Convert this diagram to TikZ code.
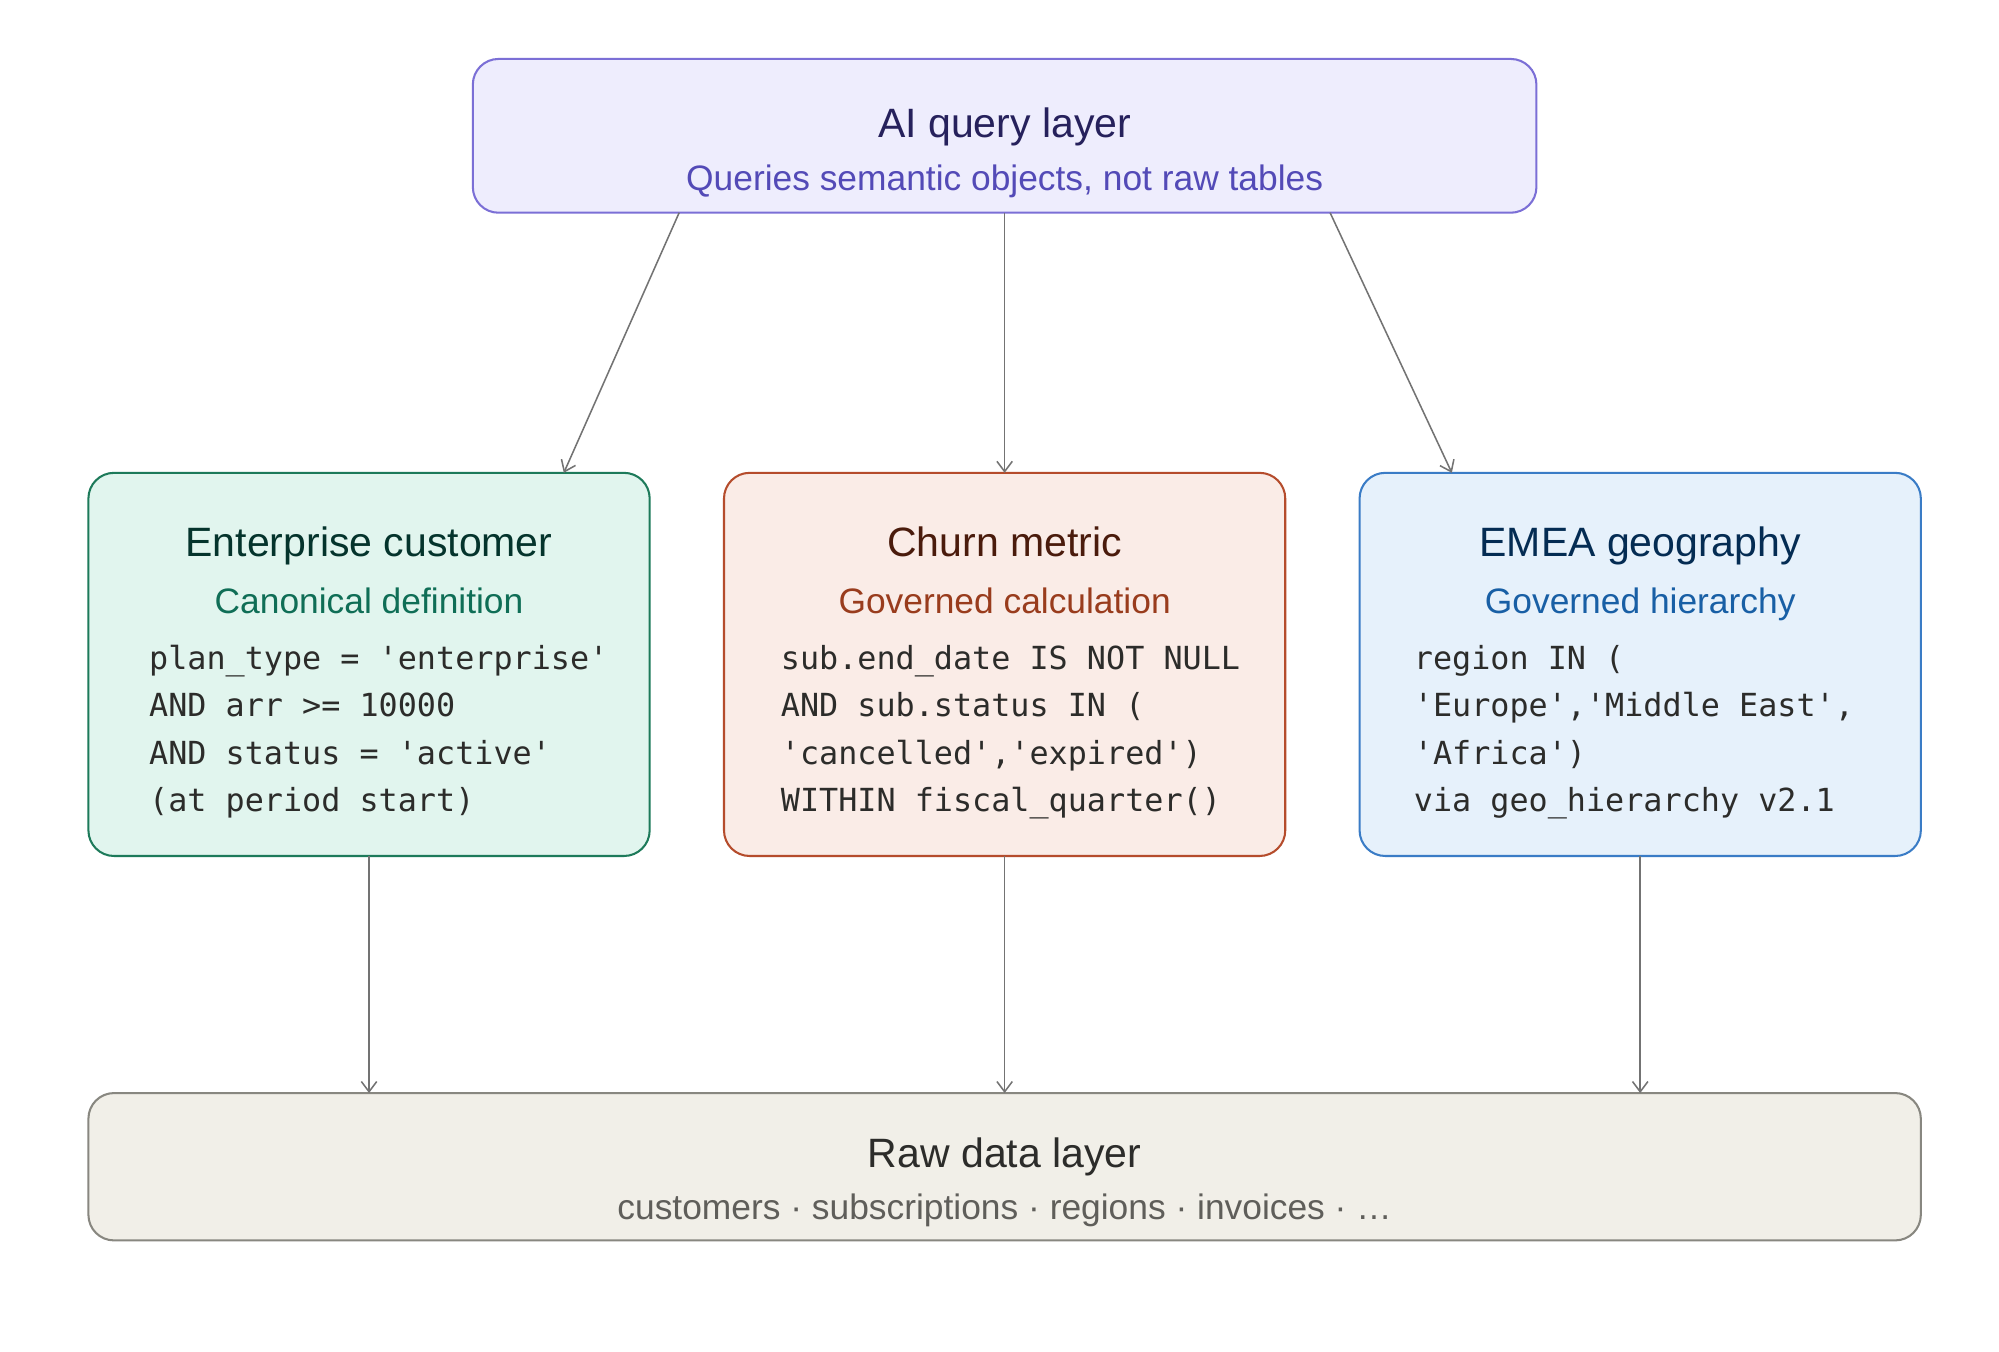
\documentclass[tikz,border=0pt]{standalone}
\usepackage{fontspec}
\setmainfont{Liberation Sans}
\setmonofont{DejaVu Sans Mono}
\usetikzlibrary{arrows.meta}
\begin{document}
\begin{tikzpicture}[x=0.5pt,y=-0.5pt,
  box/.style={rounded corners=10pt,line width=0.8pt},
  ttl/.style={font=\fontsize{16}{18}\selectfont,anchor=base},
  sub/.style={font=\fontsize{13.8}{15}\selectfont,anchor=base},
  code/.style={font=\ttfamily\fontsize{12.4}{18.5}\selectfont,anchor=north west,align=left,inner sep=0},
  arr/.style={draw=gray!90!black,line width=0.6pt,-{Straight Barb[length=4pt,width=6pt]}}]
\definecolor{tF}{HTML}{EEEDFD}\definecolor{tS}{HTML}{7B6FD6}\definecolor{tT}{HTML}{26215C}\definecolor{tU}{HTML}{534AB7}
\definecolor{gF}{HTML}{E1F5EE}\definecolor{gS}{HTML}{1D7A5A}\definecolor{gT}{HTML}{04342C}\definecolor{gU}{HTML}{0F6E56}
\definecolor{oF}{HTML}{FAECE7}\definecolor{oS}{HTML}{B54C2C}\definecolor{oT}{HTML}{4A1B0C}\definecolor{oU}{HTML}{993C1D}
\definecolor{bF}{HTML}{E6F1FB}\definecolor{bS}{HTML}{3A7CC6}\definecolor{bT}{HTML}{042C53}\definecolor{bU}{HTML}{185FA5}
\definecolor{kF}{HTML}{F1EFE8}\definecolor{kS}{HTML}{888780}\definecolor{kT}{HTML}{2C2C2A}\definecolor{kU}{HTML}{5F5E5A}
\useasboundingbox (0,0) rectangle (1560,1055);
\fill[white] (0,0) rectangle (1560,1055);
% boxes
\draw[box,fill=tF,draw=tS] (369,46) rectangle (1199,166);
\draw[box,fill=gF,draw=gS] (69,369) rectangle (507,668);
\draw[box,fill=oF,draw=oS] (565,369) rectangle (1003,668);
\draw[box,fill=bF,draw=bS] (1061,369) rectangle (1499,668);
\draw[box,fill=kF,draw=kS] (69,853) rectangle (1499,968);
% texts
\node[ttl,text=tT] (tt) at (784,107) {AI query layer};
\node[sub,text=tU] (ts) at (784,149) {Queries semantic objects, not raw tables};
\node[ttl,text=gT] (gt) at (288,434) {Enterprise customer};
\node[sub,text=gU] (gs) at (288,479) {Canonical definition};
\node[code,text=kT] (gc) at (116,503) {plan\_type = 'enterprise'\\AND arr >= 10000\\AND status = 'active'\\(at period start)};
\node[ttl,text=oT] (ot) at (784,434) {Churn metric};
\node[sub,text=oU] (os) at (784,479) {Governed calculation};
\node[code,text=kT] (oc) at (609,503) {sub.end\_date IS NOT NULL\\AND sub.status IN (\\'cancelled','expired')\\WITHIN fiscal\_quarter()};
\node[ttl,text=bT] (bt) at (1280,434) {EMEA geography};
\node[sub,text=bU] (bs) at (1280,479) {Governed hierarchy};
\node[code,text=kT] (bc) at (1103,503) {region IN (\\'Europe','Middle East',\\'Africa')\\via geo\_hierarchy v2.1};
\node[ttl,text=kT] (kt) at (784,911) {Raw data layer};
\node[sub,text=kU] (ks) at (784,952) {customers · subscriptions · regions · invoices · …};
% connector coordinates
\coordinate (a1) at (530,166); \coordinate (a2) at (784,166); \coordinate (a3) at (1038,166);
\coordinate (g1) at (440,369); \coordinate (o1) at (784,369); \coordinate (b1) at (1133,369);
\coordinate (g2) at (288,668); \coordinate (o2) at (784,668); \coordinate (b2) at (1280,668);
\coordinate (r1) at (288,853); \coordinate (r2) at (784,853); \coordinate (r3) at (1280,853);
\draw[arr] (a1) -- (g1); \draw[arr] (a2) -- (o1); \draw[arr] (a3) -- (b1);
\draw[arr] (g2) -- (r1); \draw[arr] (o2) -- (r2); \draw[arr] (b2) -- (r3);
\end{tikzpicture}
\end{document}
